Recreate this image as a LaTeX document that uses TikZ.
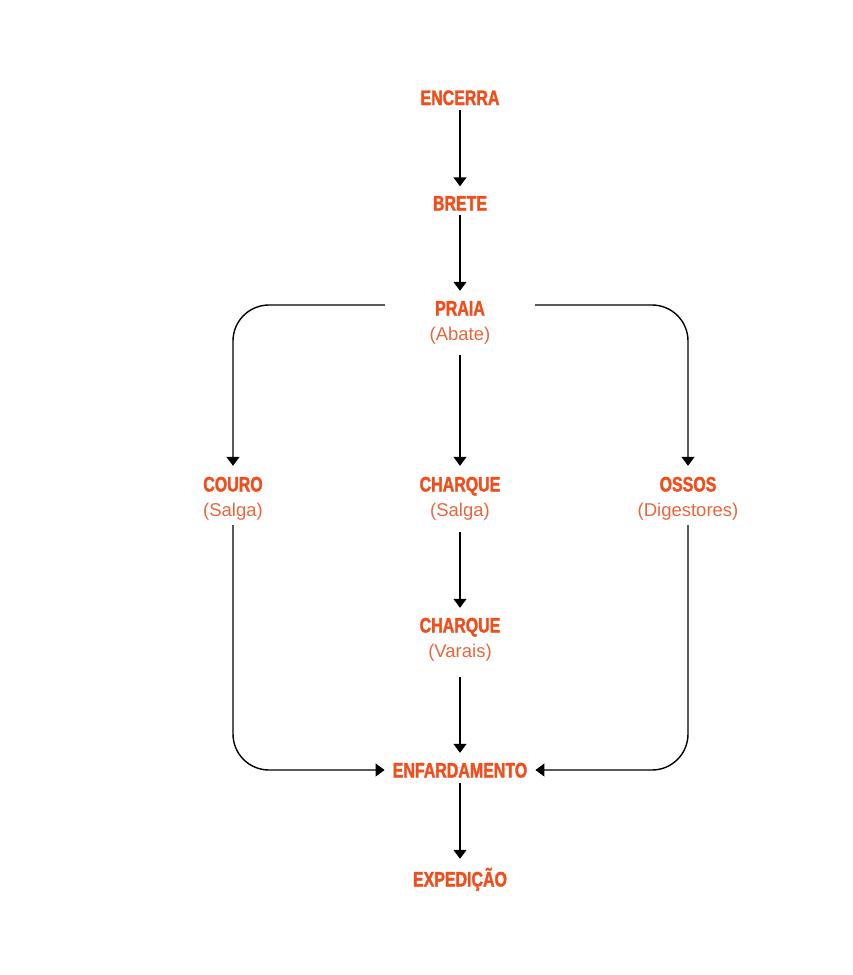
\documentclass[tikz,border=0pt]{standalone}
\usepackage{fontspec}
\setmainfont{Liberation Sans}
\newfontfamily\titlefont{Liberation Sans}[FakeStretch=0.76,FakeBold=1.6]
\usetikzlibrary{arrows.meta}
\definecolor{ttlc}{RGB}{240,78,28}
\definecolor{subc}{RGB}{232,102,62}
\begin{document}
\begin{tikzpicture}[x=1pt,y=-1pt,
  ttl/.style={inner sep=0pt, font=\titlefont\bfseries\fontsize{21}{21}\selectfont, text=ttlc, text height=15pt, text depth=0pt},
  sub/.style={inner sep=0pt, font=\fontsize{18.5}{18.5}\selectfont, text=subc, text height=13pt, text depth=0pt},
  arr/.style={draw=black, line width=1.4pt, -{Triangle[width=13pt,length=9pt]}}]
\fill[white] (0,0) rectangle (852,975);
\useasboundingbox (0,0) rectangle (852,975);

\node[ttl] (encerra) at (460,97.5) {ENCERRA};
\node[ttl] (brete) at (460,203) {BRETE};
\node[ttl] (praia) at (460,308) {PRAIA};
\node[sub] (praiaS) at (460,334) {(Abate)};
\node[ttl] (couro) at (233,484) {COURO};
\node[sub] (couroS) at (233,510) {(Salga)};
\node[ttl] (charqueA) at (460,484) {CHARQUE};
\node[sub] (charqueAS) at (460,510) {(Salga)};
\node[ttl] (ossos) at (688,484) {OSSOS};
\node[sub] (ossosS) at (688,510) {(Digestores)};
\node[ttl] (charqueB) at (460,625) {CHARQUE};
\node[sub] (charqueBS) at (460,651) {(Varais)};
\node[ttl] (enfard) at (460,770) {ENFARDAMENTO};
\node[ttl] (exped) at (460,879) {EXPEDIÇÃO};

\draw[arr] ([yshift=-5pt]encerra.south) -- ([yshift=9pt]brete.north);
\draw[arr] ([yshift=-4.5pt]brete.south) -- ([yshift=9.5pt]praia.north);
\draw[arr] ([yshift=-14.5pt]praiaS.south) -- ([yshift=10.5pt]charqueA.north);
\draw[arr] ([yshift=-15.5pt]charqueAS.south) -- ([yshift=9.5pt]charqueB.north);
\draw[arr] ([yshift=-19.5pt]charqueBS.south) -- ([yshift=9.5pt]enfard.north);
\draw[arr] ([yshift=-5.5pt]enfard.south) -- ([yshift=12.5pt]exped.north);

\draw[arr, rounded corners=36pt] ([xshift=-50pt,yshift=3pt]praia.west) -| ([yshift=10.5pt]couro.north);
\draw[arr, rounded corners=36pt] ([xshift=50pt,yshift=3pt]praia.east) -| ([yshift=10.5pt]ossos.north);
\draw[arr, rounded corners=36pt] ([yshift=-8.5pt]couroS.south) |- ([xshift=-8pt]enfard.west);
\draw[arr, rounded corners=36pt] ([yshift=-8.5pt]ossosS.south) |- ([xshift=8pt]enfard.east);
\end{tikzpicture}
\end{document}
